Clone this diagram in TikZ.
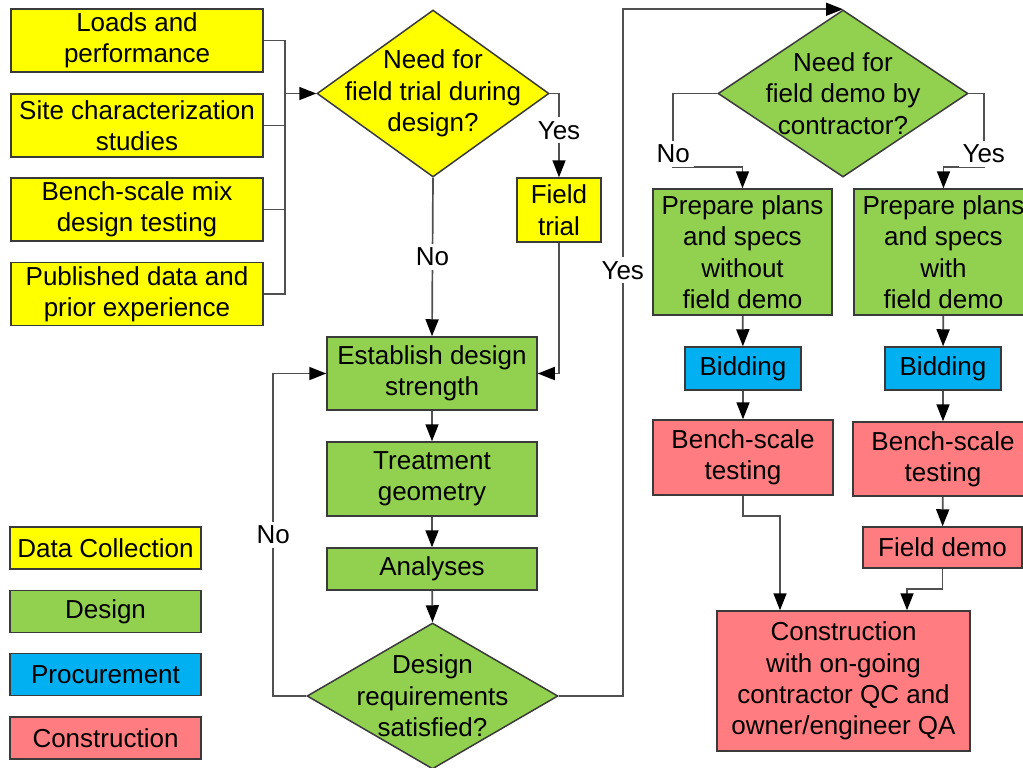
\documentclass[tikz,border=0pt]{standalone}
\usepackage{fontspec}
\setmainfont{Liberation Sans}
\usetikzlibrary{arrows.meta,shapes.geometric}
\definecolor{collectyel}{HTML}{FFFF00}
\definecolor{designgrn}{HTML}{92D050}
\definecolor{procblu}{HTML}{00B0F0}
\definecolor{conspnk}{HTML}{FF7C80}
\definecolor{edgegray}{HTML}{3A3A3A}
\definecolor{wiregray}{HTML}{505050}
\begin{document}
\begin{tikzpicture}[x=0.5pt, y=-0.5pt, font=\fontsize{13}{15.7}\selectfont,
	>={Triangle[length=8.5pt,width=6.5pt,color=black]}, line width=0.85pt,
	every edge/.style={draw=wiregray},
	blk/.style={draw=edgegray, line width=0.75pt, align=center, inner sep=0pt},
	collect/.style={blk, fill=collectyel},
	dsgn/.style={blk, fill=designgrn},
	proc/.style={blk, fill=procblu},
	cons/.style={blk, fill=conspnk},
	query/.style={diamond, draw=edgegray, line width=0.75pt, inner sep=0pt},
	qtext/.style={align=center, inner sep=0pt},
	lbl/.style={fill=white, text=black, inner sep=2pt},
	key/.style={minimum width=95.5pt, minimum height=21pt}]
		\useasboundingbox (0,0) rectangle (1023,767);
		\node[collect, minimum width=126pt, minimum height=31.5pt] (loads) at (137,40.5) {Loads and\\performance};
		\node[collect, minimum width=126pt, minimum height=31.5pt] (site) at (137,125.5) {Site characterization\\studies};
		\node[collect, minimum width=126pt, minimum height=31.5pt] (mix) at (137,209.5) {Bench-scale mix\\design testing};
		\node[collect, minimum width=126pt, minimum height=31.5pt] (prior) at (137,294) {Published data and\\prior experience};
		\node[query, fill=collectyel, minimum width=116pt, minimum height=83.5pt] (need) at (433,93.5) {};
		\node[qtext] (needtxt) at (need) {Need for\\field trial during\\design?};
		\node[collect, minimum width=42pt, minimum height=32pt] (trial) at (559,210) {Field\\trial};
		\node[dsgn, minimum width=105pt, minimum height=36.5pt] (strength) at (432,373.5) {Establish design\\strength};
		\node[dsgn, minimum width=105pt, minimum height=37pt] (geom) at (432,479) {Treatment\\geometry};
		\node[dsgn, minimum width=105pt, minimum height=21pt] (anal) at (432,569) {Analyses};
		\node[query, fill=designgrn, minimum width=125.5pt, minimum height=73pt] (satisf) at (432.5,696) {};
		\node[qtext] (satisftxt) at (satisf) {Design\\requirements\\satisfied?};
		\node[query, fill=designgrn, minimum width=125pt, minimum height=83.5pt] (demoq) at (843,93.5) {};
		\node[qtext] (demoqtxt) at (demoq) {Need for\\field demo by\\contractor?};
		\node[dsgn, minimum width=89.5pt, minimum height=63pt] (plansno) at (742.5,252) {Prepare plans\\and specs\\without\\field demo};
		\node[dsgn, minimum width=89.5pt, minimum height=63pt] (plansyes) at (943.5,252) {Prepare plans\\and specs\\with\\field demo};
		\node[proc, minimum width=58pt, minimum height=21.5pt] (bidno) at (743,368.5) {Bidding};
		\node[proc, minimum width=58pt, minimum height=21.5pt] (bidyes) at (943,368.5) {Bidding};
		\node[cons, minimum width=90pt, minimum height=37.5pt] (benchno) at (743,457.5) {Bench-scale\\testing};
		\node[cons, minimum width=90pt, minimum height=37pt] (benchyes) at (943,459) {Bench-scale\\testing};
		\node[cons, minimum width=79.5pt, minimum height=20.5pt] (fdemo) at (942.5,547.5) {Field demo};
		\node[cons, minimum width=126.5pt, minimum height=70pt] (constr) at (843.5,681) {Construction\\with on-going\\contractor QC and\\owner/engineer QA};
		\node[collect, key] (keydata) at (105.5,548) {Data Collection};
		\node[dsgn, key] (keydesign) at (105.5,611.5) {Design};
		\node[proc, key] (keyproc) at (105.5,674.5) {Procurement};
		\node[cons, key] (keycons) at (105.5,738) {Construction};
		\coordinate (join) at (285,93.5);
		\draw[wiregray] (loads.east) -| (join) (site.east) -| (join) (mix.east) -| (join) (prior.east) -| (join);
		\path[->]
		(join) edge (need.west)
		(need.south) edge node[lbl]{No} (strength.north)
		(strength) edge (geom)
		(geom) edge (anal)
		(anal) edge (satisf.north)
		(plansno) edge (bidno)
		(plansyes) edge (bidyes)
		(bidno) edge (benchno)
		(bidyes) edge (benchyes)
		(benchyes) edge (fdemo);
		\draw[->, wiregray] (need.east) -| node[lbl, pos=0.72]{Yes} (trial.north);
		\draw[->, wiregray] (trial.south) |- (strength.east);
		\draw[->, wiregray] (satisf.west) -- ++(-33,0) |- node[lbl, pos=0.25]{No} (strength.west);
		\draw[->, wiregray] (satisf.east) -- ++(64,0) |- node[lbl, pos=0.31]{Yes} (demoq.north);
		\draw[->, wiregray] (demoq.west) -- ++(-44,0) |- node[lbl, pos=0.41]{No} ([yshift=10.5pt]plansno.north) -- (plansno.north);
		\draw[->, wiregray] (demoq.east) -- ++(15,0) |- node[lbl, pos=0.41]{Yes} ([yshift=10.5pt]plansyes.north) -- (plansyes.north);
		\draw[->, wiregray] (benchno.south) -- ++(0,20) -| ([xshift=-31.75pt]constr.north);
		\draw[->, wiregray] (fdemo.south) -- ++(0,20) -| ([xshift=31.75pt]constr.north);
	\end{tikzpicture}
\end{document}
